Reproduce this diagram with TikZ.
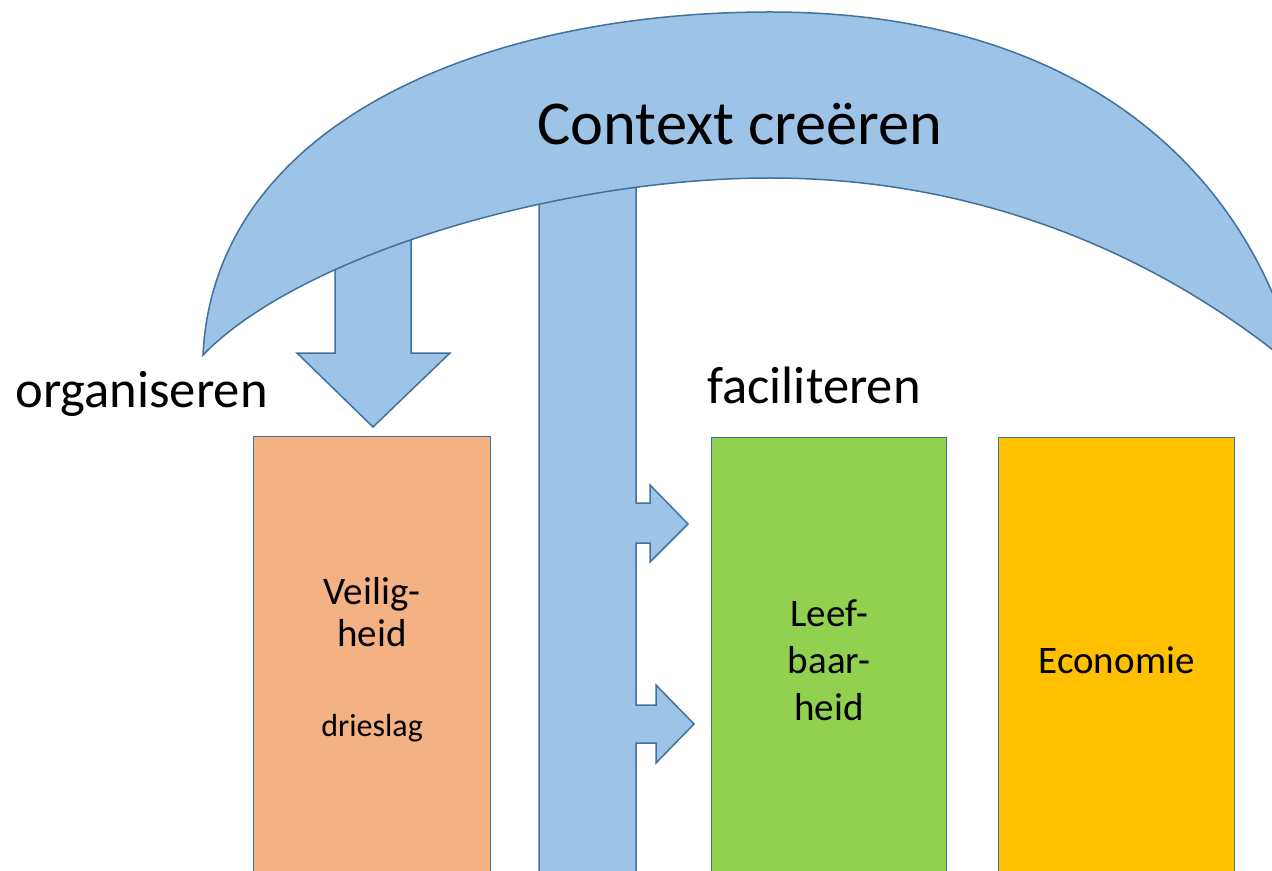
\documentclass[tikz,border=0pt]{standalone}
\usepackage{fontspec}
\setmainfont{Carlito}
\definecolor{contextblue}{HTML}{9DC3E6}
\definecolor{contextline}{HTML}{41719C}
\definecolor{veiligcol}{HTML}{F4B183}
\definecolor{leefcol}{HTML}{92D050}
\definecolor{economiecol}{HTML}{FFC000}
\begin{document}
\begin{tikzpicture}[x=0.5pt,y=-0.5pt,
  blokpijl/.style={fill=contextblue,draw=contextline,line width=0.75pt,line join=miter},
  domein/.style={draw=contextline,line width=0.6pt,anchor=north west,minimum height=223pt,align=center,inner sep=0pt,font=\fontsize{19.5}{23.5}\selectfont},
  rol/.style={inner sep=0pt,anchor=base west,font=\fontsize{26.3}{30}\selectfont}]
\useasboundingbox (0,0) rectangle (1272,871);
\clip (0,0) rectangle (1272,871);
\fill[white] (0,0) rectangle (1272,871);
\node[domein,fill=veiligcol,minimum width=118.5pt,font=\fontsize{19.5}{21}\selectfont] (veiligheid) at (253,436) {Veilig-\\heid\\[24pt]{\fontsize{16}{19}\selectfont drieslag}};
\node[domein,fill=leefcol,minimum width=117.5pt] (leefbaarheid) at (711,437) {Leef-\\baar-\\heid};
\node[domein,fill=economiecol,minimum width=118pt] (economie) at (998,437) {Economie};
\draw[blokpijl] (335,200) -- (411,200) -- (411,353) -- (450,353) -- (373,427) -- (297,353) -- (335,353) -- cycle;
\draw[blokpijl] (539,120) -- (636,120) -- (636,503) -- (650,503) -- (650,485) -- (688,524) -- (650,562) -- (650,543) -- (636,543)
  -- (636,705) -- (656,705) -- (656,685) -- (694,724) -- (656,763) -- (656,743) -- (636,743) -- (636,900) -- (539,900) -- cycle;
\draw[blokpijl] (203,355) .. controls (214,125) and (480,12) .. (770,12) .. controls (1060,12) and (1230,150) .. (1290,340)
  -- (1300,372) .. controls (1180,270) and (1000,178) .. (770,178) .. controls (560,178) and (300,255) .. cycle;
\node[inner sep=0pt,anchor=base,font=\fontsize{31.2}{36}\selectfont] (context) at (740,145) {Context creëren};
\node[rol] (organiseren) at (15,407) {organiseren};
\node[rol] (faciliteren) at (707,403) {faciliteren};
\end{tikzpicture}
\end{document}
